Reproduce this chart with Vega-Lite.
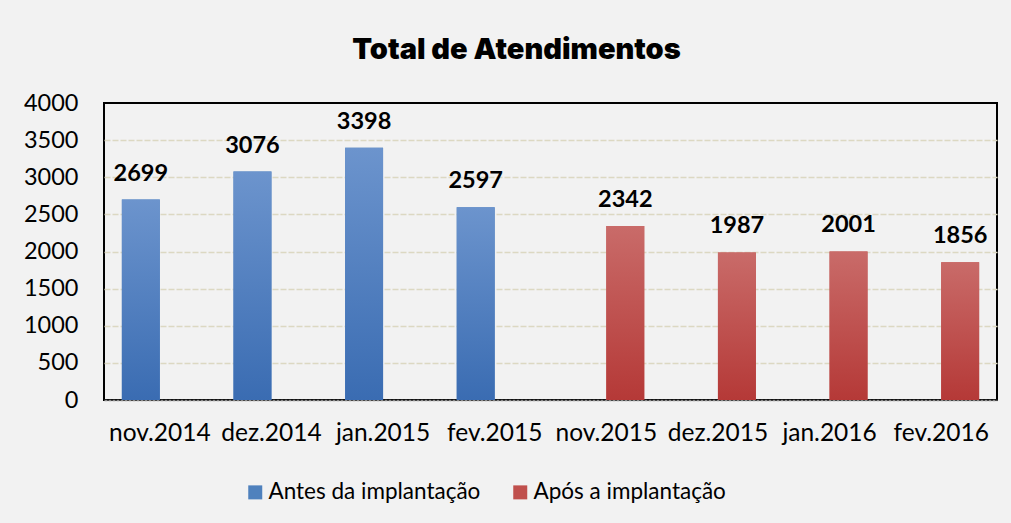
{
  "$schema": "https://vega.github.io/schema/vega-lite/v6.json",
  "autosize": {"type": "none"},
  "width": 893,
  "height": 297,
  "padding": {"left": 104, "top": 103, "right": 14, "bottom": 123},
  "background": "#f2f2f2",
  "title": {
    "text": "Total de Atendimentos",
    "font": "Inter",
    "fontWeight": 900,
    "fontSize": 29,
    "color": "#000000",
    "anchor": "middle",
    "dx": -34,
    "offset": 26
  },
  "config": {
    "view": {"stroke": "#000000", "strokeWidth": 2, "fill": "#f2f2f2"},
    "font": "Lato"
  },
  "data": {
    "values": [
      {"mes": "nov.2014", "grupo": "Antes da implantação", "total": 2699},
      {"mes": "dez.2014", "grupo": "Antes da implantação", "total": 3076},
      {"mes": "jan.2015", "grupo": "Antes da implantação", "total": 3398},
      {"mes": "fev.2015", "grupo": "Antes da implantação", "total": 2597},
      {"mes": "nov.2015", "grupo": "Após a implantação", "total": 2342},
      {"mes": "dez.2015", "grupo": "Após a implantação", "total": 1987},
      {"mes": "jan.2016", "grupo": "Após a implantação", "total": 2001},
      {"mes": "fev.2016", "grupo": "Após a implantação", "total": 1856}
    ]
  },
  "encoding": {
    "x": {
      "field": "mes",
      "type": "nominal",
      "sort": null,
      "scale": {"paddingInner": 0.32, "paddingOuter": 0.16},
      "axis": {
        "title": null,
        "labelAngle": 0,
        "labelFont": "Lato",
        "labelFontSize": 24.5,
        "labelColor": "#000000",
        "labelPadding": 21,
        "ticks": false,
        "domain": true,
        "domainColor": "#8c8c8c",
        "domainDash": [3, 1],
        "domainWidth": 1.5
      }
    },
    "xOffset": {
      "field": "grupo",
      "type": "nominal",
      "scale": {"domain": ["Antes da implantação", "Após a implantação"], "paddingInner": 0, "paddingOuter": 0}
    },
    "y": {
      "field": "total",
      "type": "quantitative",
      "scale": {"domain": [0, 4000], "nice": false},
      "axis": {
        "title": null,
        "values": [0, 500, 1000, 1500, 2000, 2500, 3000, 3500, 4000],
        "format": "d",
        "labelFont": "Lato",
        "labelFontSize": 23.5,
        "labelColor": "#000000",
        "labelPadding": 26,
        "ticks": false,
        "domain": false,
        "grid": true,
        "gridColor": "#dcd8c2",
        "gridWidth": 1.5,
        "gridDash": [6, 2],
        "gridOpacity": {"condition": {"test": "datum.value == 4000 || datum.value == 0", "value": 0}, "value": 1}
      }
    }
  },
  "layer": [
    {
      "mark": {"type": "bar"},
      "encoding": {
        "color": {
          "field": "grupo",
          "type": "nominal",
          "scale": {"domain": ["Antes da implantação", "Após a implantação"], "range": ["#4f81bd", "#c0504d"]},
          "legend": {
            "title": null,
            "orient": "none",
            "direction": "horizontal",
            "legendX": 140,
            "legendY": 378,
            "symbolType": "square",
            "symbolSize": 196,
            "symbolStrokeWidth": 0,
            "symbolOffset": 0,
            "labelFont": "Lato",
            "labelFontSize": 22.5,
            "labelColor": "#000000",
            "labelLimit": 400,
            "labelOffset": 2,
            "columnPadding": 28
          }
        }
      }
    },
    {
      "mark": {"type": "bar"},
      "encoding": {
        "color": {
          "condition": {
            "test": "datum.grupo == 'Antes da implantação'",
            "value": {
              "gradient": "linear", "x1": 0, "y1": 0, "x2": 0, "y2": 1,
              "stops": [{"offset": 0, "color": "#6c94cd"}, {"offset": 1, "color": "#3a6cb2"}]
            }
          },
          "value": {
            "gradient": "linear", "x1": 0, "y1": 0, "x2": 0, "y2": 1,
            "stops": [{"offset": 0, "color": "#c96b69"}, {"offset": 1, "color": "#b53937"}]
          }
        }
      }
    },
    {
      "mark": {"type": "text", "font": "Lato", "fontWeight": "bold", "fontSize": 23.5, "baseline": "middle", "dy": -26, "color": "#000000"},
      "encoding": {
        "text": {"field": "total", "type": "quantitative", "format": "d"}
      }
    }
  ]
}
